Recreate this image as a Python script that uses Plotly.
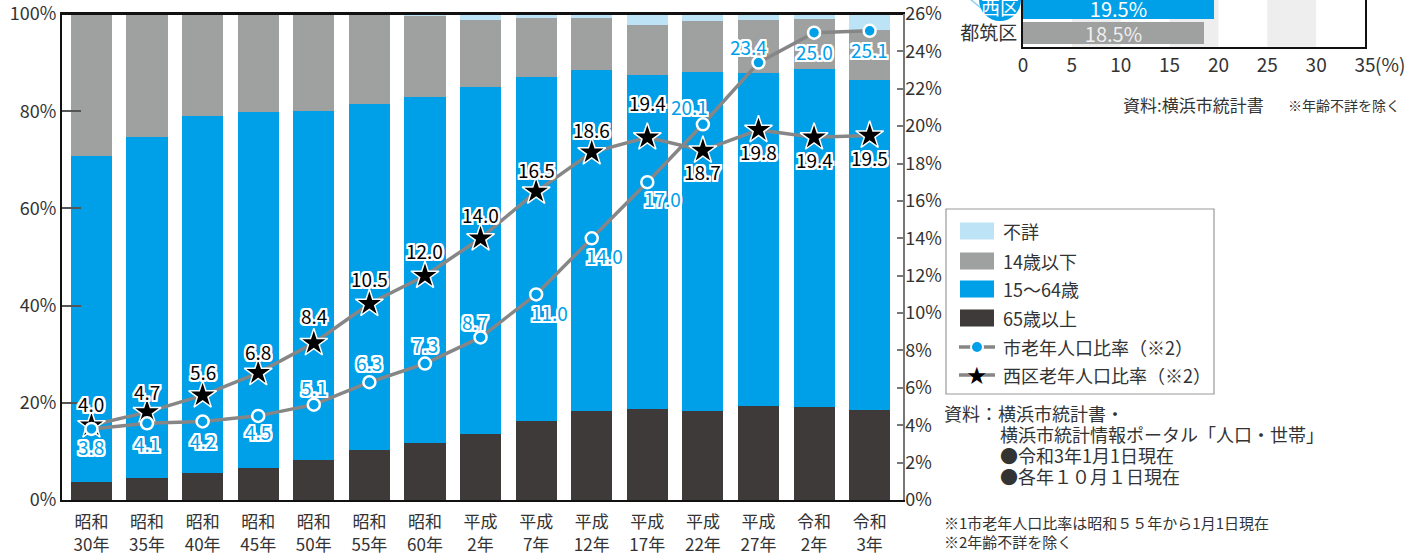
import plotly.graph_objects as go

W, H = 1424, 554
FONT = "Noto Sans CJK JP"

# ---------------- data ----------------
eras = ["昭和", "昭和", "昭和", "昭和", "昭和", "昭和", "昭和", "平成", "平成", "平成", "平成", "平成", "平成", "令和", "令和"]
years = ["30年", "35年", "40年", "45年", "50年", "55年", "60年", "2年", "7年", "12年", "17年", "22年", "27年", "2年", "3年"]
categories = [f"{e}<br>{y}" for e, y in zip(eras, years)]

age65_over = [3.7, 4.5, 5.6, 6.6, 8.2, 10.3, 11.8, 13.6, 16.3, 18.3, 18.7, 18.3, 19.3, 19.1, 18.5]
age15_64 = [67.1, 70.2, 73.4, 73.2, 71.8, 71.2, 71.1, 71.4, 70.7, 70.2, 68.7, 69.8, 68.6, 69.6, 67.9]
age14_under = [29.2, 25.3, 21.0, 20.2, 20.0, 18.5, 16.7, 13.8, 12.2, 10.7, 10.3, 10.5, 10.9, 10.3, 10.3]
age_unknown = [0, 0, 0, 0, 0, 0, 0.4, 1.2, 0.8, 0.8, 2.3, 1.4, 1.2, 1.0, 3.3]

city_ratio = [3.8, 4.1, 4.2, 4.5, 5.1, 6.3, 7.3, 8.7, 11.0, 14.0, 17.0, 20.1, 23.4, 25.0, 25.1]
ward_ratio = [4.0, 4.7, 5.6, 6.8, 8.4, 10.5, 12.0, 14.0, 16.5, 18.6, 19.4, 18.7, 19.8, 19.4, 19.5]

inset_wards = ["都筑区", "西区"]
inset_values = [18.5, 19.5]

left_ticks = [0, 20, 40, 60, 80, 100]
right_ticks = list(range(0, 27, 2))
inset_ticks = [0, 5, 10, 15, 20, 25, 30, 35]

# ---------------- styles / label placement (pixels) ----------------
C_DARK = "#3e3a39"
C_BLUE = "#00a0e9"
C_GRAY = "#9fa0a0"
C_LIGHT = "#bde3f7"
C_LINE = "#868686"
C_TEXT = "#333333"

ward_label_dy = [22, 21, 24, 21, 27, 25, 25, 24, 22, 23, 35, -21, -22, -22, -22]
city_label_dy = [-18, -20, -19, -16, 17, 20, 19, 16, -18, -17, -16, 18, 16, -19, -19]
city_label_dx = [0, 0, 0, 0, 0, 0, 0, -6, 13, 13, 15, -13, -10, 0, 0]


def px(x):
    return x / W


def py(y):
    return 1 - y / H


halo = ", ".join(f"{dx}px {dy}px 0 #ffffff" for dx in (-2, -1, 0, 1, 2) for dy in (-2, -1, 0, 1, 2) if (dx, dy) != (0, 0))

fig = go.Figure()

bar_specs = [
    ("65歳以上", age65_over, C_DARK),
    ("15～64歳", age15_64, C_BLUE),
    ("14歳以下", age14_under, C_GRAY),
    ("不詳", age_unknown, C_LIGHT),
]
for name, vals, col in bar_specs:
    fig.add_trace(go.Bar(x=categories, y=vals, name=name, marker=dict(color=col, line=dict(width=0)),
                         width=0.74, xaxis="x", yaxis="y", showlegend=False, hoverinfo="skip"))

fig.add_trace(go.Scatter(
    x=categories, y=ward_ratio, name="西区老年人口比率(※2)", mode="lines+markers",
    line=dict(color=C_LINE, width=3.5),
    marker=dict(symbol="star", size=21, color="#000000", line=dict(color="#ffffff", width=1.5)),
    xaxis="x", yaxis="y2", showlegend=False, cliponaxis=False))

fig.add_trace(go.Scatter(
    x=categories, y=city_ratio, name="市老年人口比率(※2)", mode="lines+markers",
    line=dict(color=C_LINE, width=3.5),
    marker=dict(symbol="circle", size=12, color=C_BLUE, line=dict(color="#ffffff", width=2.5)),
    xaxis="x", yaxis="y2", showlegend=False, cliponaxis=False))

# inset horizontal bar chart
fig.add_trace(go.Bar(
    y=[0, 1], x=inset_values, orientation="h", width=0.88,
    marker=dict(color=[C_GRAY, C_BLUE], line=dict(width=0)),
    text=[f"{v}%" for v in inset_values], textposition="inside", insidetextanchor="middle",
    constraintext="none",
    textfont=dict(family=FONT, size=20, color=["#eeeeee", "#ffffff"]),
    xaxis="x3", yaxis="y3", showlegend=False, hoverinfo="skip"))

main_x_domain = [px(62), px(903)]
main_y_domain = [py(500), py(14)]

fig.update_layout(
    width=W, height=H, margin=dict(l=0, r=0, t=0, b=0, autoexpand=False),
    paper_bgcolor="white", plot_bgcolor="rgba(0,0,0,0)",
    barmode="stack", bargap=0,
    font=dict(family=FONT, size=17, color=C_TEXT),
    xaxis=dict(domain=main_x_domain, range=[-0.53, 14.6], showline=True, linecolor="#111111", linewidth=2,
               mirror=True, ticks="", showgrid=False, zeroline=False, automargin=False, ticklabelstandoff=6,
               tickfont=dict(family=FONT, size=17, color=C_TEXT), anchor="y"),
    yaxis=dict(domain=main_y_domain, range=[0, 100.001], tickmode="array", tickvals=left_ticks,
               ticktext=[f"{t}%" for t in left_ticks], automargin=False, ticklabeloverflow="allow",
               showline=True, linecolor="#111111", linewidth=2, ticks="inside", ticklen=19, tickwidth=2,
               tickcolor="#555555", showgrid=False, zeroline=False, anchor="x",
               tickfont=dict(family=FONT, size=18, color=C_TEXT)),
    yaxis2=dict(range=[0, 26.0003], tickmode="array", tickvals=right_ticks, ticktext=[f"{t}%" for t in right_ticks],
                overlaying="y", side="right", anchor="x", automargin=False, ticklabelstandoff=-3,
                ticklabeloverflow="allow",
                showline=True, linecolor="#777777", linewidth=1.5, ticks="inside", ticklen=6, tickwidth=1.5,
                tickcolor="#777777", showgrid=False, zeroline=False,
                tickfont=dict(family=FONT, size=18, color=C_TEXT)),
    xaxis3=dict(domain=[px(1023), px(1365)], range=[0, 35], tickmode="array", tickvals=inset_ticks,
                ticktext=[str(t) for t in inset_ticks], anchor="y3", automargin=False,
                showline=True, linecolor="#111111", linewidth=2, mirror=False, ticks="", showgrid=False,
                zeroline=False, tickfont=dict(family=FONT, size=19, color=C_TEXT)),
    yaxis3=dict(domain=[py(46.7), 1.0], range=[-0.548, 1.32], tickmode="array", tickvals=[0],
                ticktext=[inset_wards[0]], automargin=False,
                anchor="x3", showline=True, linecolor="#111111", linewidth=2, mirror=True, ticks="",
                showgrid=False, zeroline=False, tickfont=dict(family=FONT, size=19, color=C_TEXT)),
)

shapes = []
# main plot top frame line
shapes.append(dict(type="line", xref="x domain", yref="y domain", x0=0, x1=1, y0=1, y1=1,
                   line=dict(color="#111111", width=2)))
# inset bands
for a in (5, 15, 25):
    shapes.append(dict(type="rect", xref="x3", yref="y3 domain", x0=a, x1=a + 5, y0=0, y1=1,
                       fillcolor="#eeeeee", line=dict(width=0), layer="below"))
# 西区 badge
shapes.append(dict(type="line", xref="paper", yref="paper", x0=px(964), y0=py(-6), x1=px(981), y1=py(8),
                   line=dict(color="#8fcfee", width=1.5)))
shapes.append(dict(type="circle", xref="paper", yref="paper", x0=px(979), x1=px(1021), y0=py(21), y1=py(-21),
                   fillcolor=C_BLUE, line=dict(width=0)))

# legend box
shapes.append(dict(type="rect", xref="paper", yref="paper", x0=px(946), x1=px(1214), y0=py(394), y1=py(209),
                   fillcolor="white", line=dict(color="#999999", width=1.2)))
leg_items = [("不詳", C_LIGHT, 231), ("14歳以下", C_GRAY, 261), ("15～64歳", C_BLUE, 289), ("65歳以上", C_DARK, 318)]
for _, col, yc in leg_items:
    shapes.append(dict(type="rect", xref="paper", yref="paper", x0=px(960), x1=px(994), y0=py(yc + 8.5), y1=py(yc - 8.5),
                       fillcolor=col, line=dict(width=0)))
for yc in (347, 375):
    shapes.append(dict(type="line", xref="paper", yref="paper", x0=px(959), x1=px(995), y0=py(yc), y1=py(yc),
                       line=dict(color=C_LINE, width=3.5)))
shapes.append(dict(type="circle", xref="paper", yref="paper", x0=px(971), x1=px(983), y0=py(353), y1=py(341),
                   fillcolor=C_BLUE, line=dict(color="white", width=2)))
fig.update_layout(shapes=shapes)

ann = []

# value labels on the lines
for i, v in enumerate(ward_ratio):
    ann.append(dict(xref="x", yref="y2", x=categories[i], y=v, text=f"{v:.1f}", showarrow=False,
                    yshift=ward_label_dy[i], xanchor="center", yanchor="middle",
                    font=dict(family=FONT, size=19, color="#000000", shadow=halo)))
for i, v in enumerate(city_ratio):
    ann.append(dict(xref="x", yref="y2", x=categories[i], y=v, text=f"{v:.1f}", showarrow=False,
                    xshift=city_label_dx[i], yshift=city_label_dy[i], xanchor="center", yanchor="middle",
                    font=dict(family=FONT, size=19, color=C_BLUE, shadow=halo)))


def note(x, y, text, size=18, color=C_TEXT, xanchor="left"):
    ann.append(dict(xref="paper", yref="paper", x=px(x), y=py(y), text=text, showarrow=False,
                    xanchor=xanchor, yanchor="middle", font=dict(family=FONT, size=size, color=color)))


for label, _, yc in leg_items:
    note(1001, yc, label)
note(1001, 347, "市老年人口比率（※2）")
note(1001, 375, "西区老年人口比率（※2）")
ann.append(dict(xref="paper", yref="paper", x=px(977), y=py(376), text="★", showarrow=False,
                font=dict(family="DejaVu Sans", size=24, color="#000000", shadow="0 0 1px #fff"), xanchor="center", yanchor="middle"))

note(942, 413, "資料：横浜市統計書・")
note(998, 434, "横浜市統計情報ポータル「人口・世帯」")
note(998, 455, "●令和3年1月1日現在")
note(998, 476, "●各年１０月１日現在")
note(942, 522, "※1市老年人口比率は昭和５５年から1月1日現在", size=15)
note(942, 541, "※2年齢不詳を除く", size=15)

note(1121, 104, "資料:横浜市統計書", size=17)
note(1286, 105, "※年齢不詳を除く", size=14)
note(1000, 6, inset_wards[1], size=19, color="white", xanchor="center")
ann.append(dict(xref="x3", yref="paper", x=35, y=py(63), text="(%)", showarrow=False, xanchor="left",
                yanchor="middle", xshift=8, font=dict(family=FONT, size=19, color=C_TEXT)))
fig.update_layout(annotations=ann)

fig.write_html("out.html", config={"displayModeBar": False},
               post_script="document.body.style.margin='0px';document.body.style.overflow='hidden';")
